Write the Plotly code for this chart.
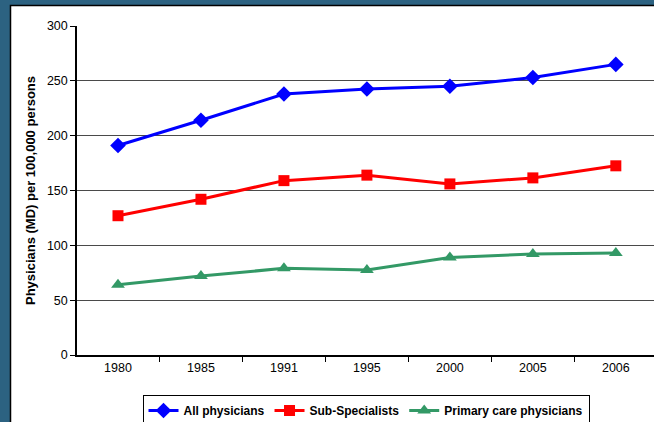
import plotly.graph_objects as go

years = ["1980", "1985", "1991", "1995", "2000", "2005", "2006"]
all_phys = [191, 214, 238, 242.5, 245, 253, 265]
sub_spec = [127, 142, 159, 164, 156, 161.5, 172.5]
primary = [64, 72, 79, 77.5, 89, 92, 93]

W, H = 654, 422
L, R, T, B = 77, 0, 26, 67
pw, ph = W - L - R, H - T - B

def px_x(p):
    return (p - L) / pw

def px_y(p):
    return (H - B - p) / ph

FONT = "Arial, Liberation Sans, sans-serif"

fig = go.Figure()
fig.add_trace(go.Scatter(x=years, y=all_phys, name="All physicians", mode="lines+markers",
                         line=dict(color="#0000FF", width=3),
                         marker=dict(symbol="diamond", size=12, color="#0000FF")))
fig.add_trace(go.Scatter(x=years, y=sub_spec, name="Sub-Specialists", mode="lines+markers",
                         line=dict(color="#FF0000", width=3),
                         marker=dict(symbol="square", size=11, color="#FF0000")))
fig.add_trace(go.Scatter(x=years, y=primary, name="Primary care physicians", mode="lines+markers",
                         line=dict(color="#339966", width=3),
                         marker=dict(symbol="triangle-up", size=12, color="#339966")))

# slide background strips with white panel
fig.add_shape(type="rect", xref="paper", yref="paper",
              x0=px_x(10.5), x1=px_x(W + 20), y0=px_y(5.5), y1=px_y(H + 20),
              fillcolor="white", line=dict(color="black", width=1.5), layer="below")

fig.update_layout(
    width=W, height=H,
    margin=dict(l=L, r=R, t=T, b=B, autoexpand=False),
    paper_bgcolor="#2C6281",
    plot_bgcolor="rgba(0,0,0,0)",
    font=dict(family=FONT, size=12, color="black"),
    showlegend=True,
    legend=dict(orientation="h", x=px_x(366), xanchor="center", y=px_y(395), yanchor="top",
                bordercolor="black", borderwidth=1, bgcolor="white",
                font=dict(size=12, family=FONT, weight="bold"),
                itemwidth=30, tracegroupgap=0),
    xaxis=dict(type="category", range=[-0.494, 6.46], tickson="boundaries",
               ticks="outside", ticklen=5, tickcolor="black",
               showline=True, linecolor="black", linewidth=1.5,
               showgrid=False, zeroline=False, tickfont=dict(size=12.5)),
    yaxis=dict(range=[0, 300], dtick=50, ticks="outside", ticklen=5, tickcolor="black",
               showline=True, linecolor="black", linewidth=1.5,
               showgrid=True, gridcolor="#4a4a4a", gridwidth=1, zeroline=False,
               tickfont=dict(size=12.5),
               title=dict(text="Physicians (MD) per 100,000 persons",
                          font=dict(size=13, weight="bold"), standoff=8)),
)

fig.write_html("out.html")
